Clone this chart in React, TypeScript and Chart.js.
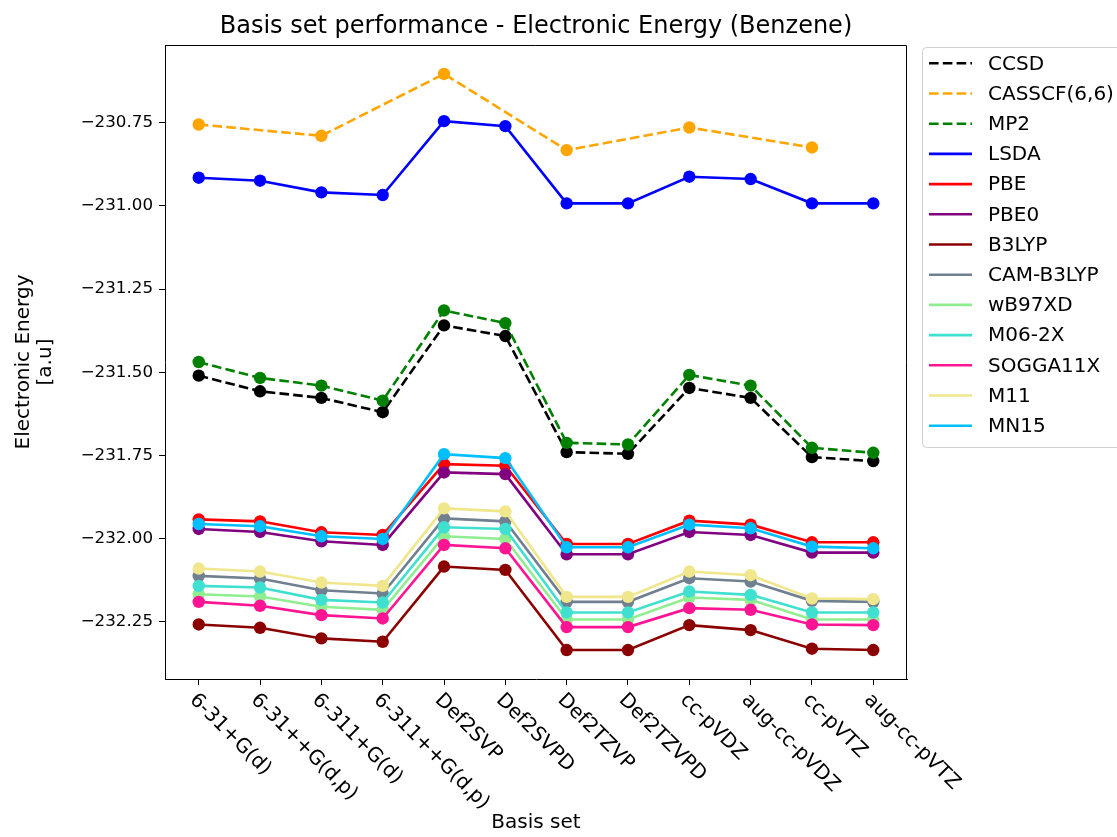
import React, { useEffect, useRef } from "react";
import { Chart, registerables } from "chart.js";

Chart.register(...registerables);

const basisSets = [
  "6-31+G(d)", "6-31++G(d,p)", "6-311+G(d)", "6-311++G(d,p)", "Def2SVP", "Def2SVPD",
  "Def2TZVP", "Def2TZVPD", "cc-pVDZ", "aug-cc-pVDZ", "cc-pVTZ", "aug-cc-pVTZ",
];

const yTickValues = [-230.75, -231.0, -231.25, -231.5, -231.75, -232.0, -232.25];

const ccsd = [-231.510, -231.557, -231.577, -231.620, -231.359, -231.391, -231.740, -231.745, -231.547, -231.577, -231.755, -231.767];
const casscf = [-230.755, null, -230.789, null, -230.603, null, -230.832, null, -230.764, null, -230.824, null];
const mp2 = [-231.469, -231.517, -231.540, -231.585, -231.314, -231.352, -231.712, -231.717, -231.508, -231.540, -231.727, -231.742];
const lsda = [-230.915, -230.924, -230.959, -230.967, -230.745, -230.760, -230.992, -230.992, -230.912, -230.919, -230.992, -230.992];
const pbe = [-231.942, -231.948, -231.981, -231.989, -231.776, -231.781, -232.016, -232.016, -231.946, -231.958, -232.011, -232.011];
const pbe0 = [-231.971, -231.980, -232.008, -232.019, -231.801, -231.806, -232.047, -232.047, -231.980, -231.989, -232.042, -232.042];
const b3lyp = [-232.258, -232.268, -232.300, -232.310, -232.084, -232.094, -232.335, -232.335, -232.260, -232.275, -232.331, -232.335];
const camB3lyp = [-232.112, -232.120, -232.155, -232.165, -231.939, -231.948, -232.190, -232.190, -232.119, -232.129, -232.187, -232.190];
const wb97xd = [-232.167, -232.174, -232.205, -232.214, -231.993, -232.001, -232.243, -232.243, -232.177, -232.184, -232.243, -232.243];
const m062x = [-232.142, -232.147, -232.184, -232.192, -231.966, -231.971, -232.222, -232.222, -232.159, -232.169, -232.222, -232.222];
const sogga11x = [-232.190, -232.202, -232.230, -232.240, -232.019, -232.029, -232.266, -232.266, -232.209, -232.214, -232.258, -232.260];
const m11 = [-232.090, -232.099, -232.132, -232.142, -231.909, -231.918, -232.175, -232.175, -232.099, -232.110, -232.180, -232.182];
const mn15 = [-231.956, -231.963, -231.993, -232.001, -231.746, -231.758, -232.026, -232.026, -231.958, -231.969, -232.024, -232.029];

const seriesNames = ["CCSD", "CASSCF(6,6)", "MP2", "LSDA", "PBE", "PBE0", "B3LYP", "CAM-B3LYP", "wB97XD", "M06-2X", "SOGGA11X", "M11", "MN15"];
const seriesValues = [ccsd, casscf, mp2, lsda, pbe, pbe0, b3lyp, camB3lyp, wb97xd, m062x, sogga11x, m11, mn15];
const seriesColors = ["#000000", "#FFA500", "#008000", "#0000FF", "#FF0000", "#800080", "#8B0000", "#708090", "#90EE90", "#40E0D0", "#FF1493", "#F0E68C", "#00BFFF"];
const seriesDashed = [true, true, true, false, false, false, false, false, false, false, false, false, false];

const FONT = "'DejaVu Sans', sans-serif";
const FS_TICK = 16.7;
const FS = 20;
const LW = 2.6;
const DASH = [9.6, 4.2];

export default function App() {
  const ref = useRef<HTMLCanvasElement | null>(null);

  useEffect(() => {
    document.body.style.margin = "0";
    const canvas = ref.current;
    if (!canvas) return;

    const datasets = seriesNames.map((name, i) => ({
      label: name,
      data: seriesValues[i].map((v, j) => ({ x: j, y: v })),
      borderColor: seriesColors[i],
      backgroundColor: seriesColors[i],
      pointBackgroundColor: seriesColors[i],
      pointBorderColor: seriesColors[i],
      pointBorderWidth: 0,
      pointRadius: 6.2,
      borderWidth: LW,
      borderDash: seriesDashed[i] ? DASH : [],
      spanGaps: true,
      tension: 0,
      order: -i,
    }));

    const decor = {
      id: "decor",
      afterDraw(chart: any) {
        const ctx = chart.ctx;
        const a = chart.chartArea;
        const xs = chart.scales.x;
        ctx.save();
        // frame
        ctx.strokeStyle = "#000";
        ctx.lineWidth = 1;
        ctx.beginPath();
        ctx.moveTo(a.left, a.top + 0.5);
        ctx.lineTo(a.right - 0.5, a.top + 0.5);
        ctx.lineTo(a.right - 0.5, a.bottom);
        ctx.stroke();

        // x tick labels rotated
        ctx.fillStyle = "#000";
        ctx.font = `${FS}px ${FONT}`;
        ctx.textAlign = "left";
        ctx.textBaseline = "top";
        basisSets.forEach((lab, i) => {
          const px = xs.getPixelForValue(i);
          ctx.save();
          ctx.translate(px + 1, a.bottom + 11);
          ctx.rotate(Math.PI / 4);
          ctx.fillText(lab, 0, 0);
          ctx.restore();
        });

        // x title
        ctx.textAlign = "center";
        ctx.textBaseline = "middle";
        ctx.fillText("Basis set", (a.left + a.right) / 2, 823);

        // y title
        ctx.save();
        ctx.translate(24, (a.top + a.bottom) / 2);
        ctx.rotate(-Math.PI / 2);
        ctx.fillText("Electronic Energy", 0, 0);
        ctx.fillText("[a.u]", 0, 22);
        ctx.restore();

        // title
        ctx.font = `24px ${FONT}`;
        ctx.fillText("Basis set performance - Electronic Energy (Benzene)", (a.left + a.right) / 2, 27);

        // legend
        const lx = 922.5, ly = 47.5, lw = 220, lh = 400, r = 4;
        ctx.globalAlpha = 0.8;
        ctx.fillStyle = "#fff";
        ctx.beginPath();
        ctx.roundRect(lx, ly, lw, lh, r);
        ctx.fill();
        ctx.globalAlpha = 1;
        ctx.strokeStyle = "#d0d0d0";
        ctx.lineWidth = 1;
        ctx.stroke();
        ctx.font = `${FS}px ${FONT}`;
        ctx.textAlign = "left";
        ctx.textBaseline = "middle";
        seriesNames.forEach((name, i) => {
          const y = 63.3 + 30.2 * i;
          ctx.strokeStyle = seriesColors[i];
          ctx.lineWidth = LW;
          ctx.setLineDash(seriesDashed[i] ? DASH : []);
          ctx.beginPath();
          ctx.moveTo(929, y);
          ctx.lineTo(972, y);
          ctx.stroke();
          ctx.setLineDash([]);
          ctx.fillStyle = "#000";
          ctx.fillText(name, 988, y + 1);
        });
        ctx.restore();
      },
    };

    const chart = new Chart(canvas, {
      type: "line",
      data: { datasets },
      options: {
        animation: false,
        responsive: false,
        devicePixelRatio: 1,
        layout: { padding: { top: 45, right: 210, left: 0, bottom: 0 } },
        plugins: { legend: { display: false }, title: { display: false }, tooltip: { enabled: false } },
        scales: {
          x: {
            type: "linear",
            min: -0.55,
            max: 11.55,
            afterBuildTicks: (s: any) => {
              s.ticks = basisSets.map((_, i) => ({ value: i }));
            },
            afterFit: (s: any) => {
              s.height = 158;
            },
            ticks: { display: false },
            grid: { display: true, drawOnChartArea: false, drawTicks: true, tickLength: 6, color: "#000", lineWidth: 1 },
            border: { display: true, color: "#000", width: 1 },
          },
          y: {
            type: "linear",
            min: -232.422,
            max: -230.516,
            afterBuildTicks: (s: any) => {
              s.ticks = yTickValues.map((v) => ({ value: v }));
            },
            afterFit: (s: any) => {
              s.width = 165;
            },
            ticks: {
              color: "#000",
              padding: 6,
              font: { family: FONT, size: FS_TICK },
              callback: (v: any) => (Number(v) < 0 ? "\u2212" : "") + Math.abs(Number(v)).toFixed(2),
            },
            grid: { display: true, drawOnChartArea: false, drawTicks: true, tickLength: 6, color: "#000", lineWidth: 1 },
            border: { display: true, color: "#000", width: 1 },
          },
        },
      },
      plugins: [decor],
    } as any);

    return () => chart.destroy();
  }, []);

  return (
    <div style={{ width: 1117, height: 837 }}>
      <canvas ref={ref} width={1117} height={837} />
    </div>
  );
}
